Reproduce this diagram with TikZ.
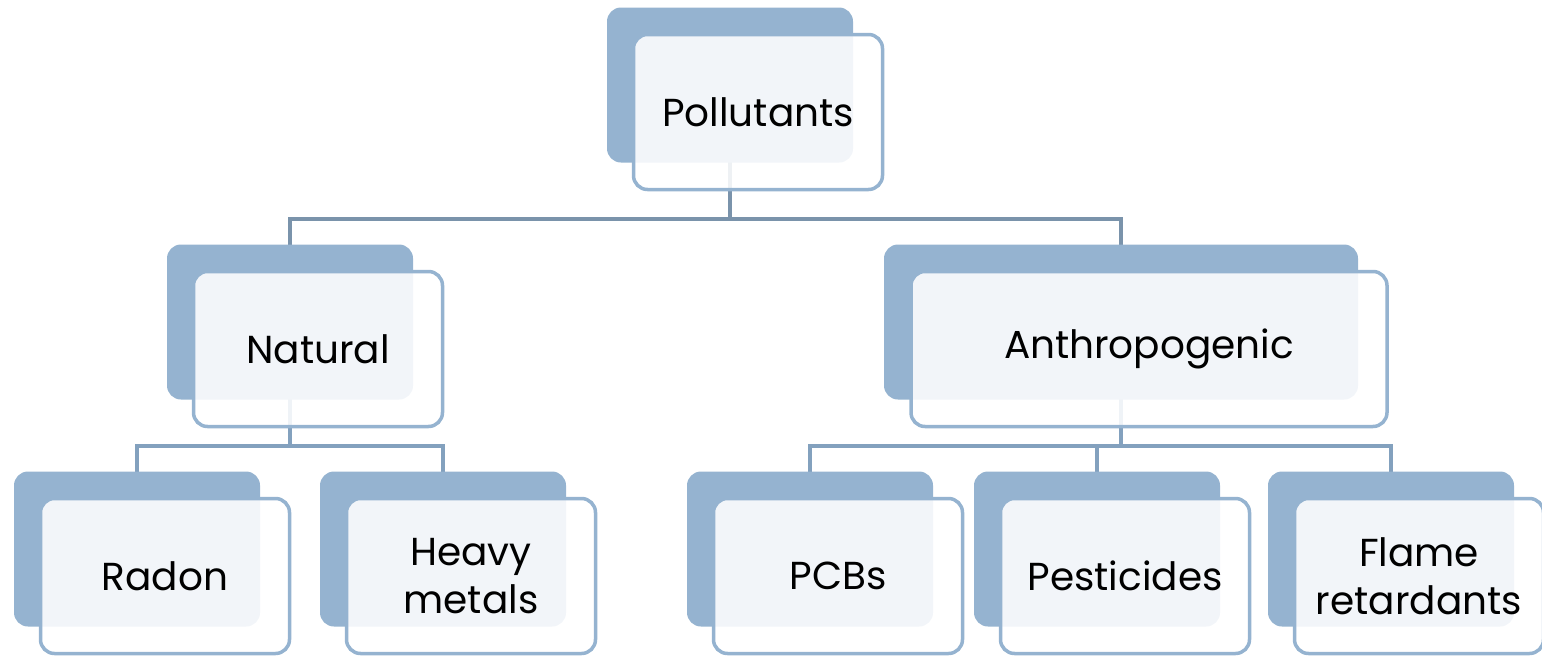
\documentclass[tikz,border=0pt]{standalone}
\usepackage{fontspec}
\setmainfont{Poppins}
\usetikzlibrary{backgrounds}
\definecolor{boxblue}{RGB}{149,179,208}
\definecolor{linkdark}{RGB}{122,147,171}
\definecolor{linkblue}{RGB}{131,161,190}
\tikzset{
  backbox/.style={fill=boxblue, rounded corners=14pt, minimum height=155pt, inner sep=0pt},
  frontbox/.style={draw=boxblue, line width=3.5pt, fill=white, fill opacity=0.88, text opacity=1,
    rounded corners=14pt, minimum height=155pt, inner sep=0pt, align=center,
    font=\fontsize{39}{48}\selectfont},
  link/.style={line width=3.5pt},
}
\begin{document}
\begin{tikzpicture}[x=1pt,y=-1pt]
            \useasboundingbox (0,0) rectangle (1542,656);
            % back boxes
            \foreach \n/\x/\y/\w in {pol/730/85/246, nat/290/322/246, ant/1121/322/474,
                rad/137/549/246, hea/443/549/246, pcb/810/549/246, pes/1097/549/246, fla/1391/549/246}
                \node[backbox, minimum width=\w pt] (\n) at (\x,\y) {};
            % connectors
            \begin{scope}[on background layer]
                \draw[link, linkdark] (pol.center) -- ++(0,134) -| (nat.center);
                \draw[link, linkdark] (pol.center) -- ++(0,134) -| (ant.center);
                \foreach \c in {rad,hea}
                    \draw[link, linkblue] (nat.center) -- ++(0,124) -| (\c.center);
                \foreach \c in {pcb,pes,fla}
                    \draw[link, linkblue] (ant.center) -- ++(0,124) -| (\c.center);
            \end{scope}
            % front boxes with the labels
            \foreach \n/\w/\t in {pol/249/Pollutants, nat/249/Natural, ant/476/Anthropogenic,
                rad/249/Radon, hea/249/{Heavy\\metals}, pcb/249/PCBs, pes/249/Pesticides, fla/249/{Flame\\retardants}}
                \node[frontbox, minimum width=\w pt] (\n-f) at ([shift={(28,27)}]\n.center) {\t};
\end{tikzpicture}
\end{document}
